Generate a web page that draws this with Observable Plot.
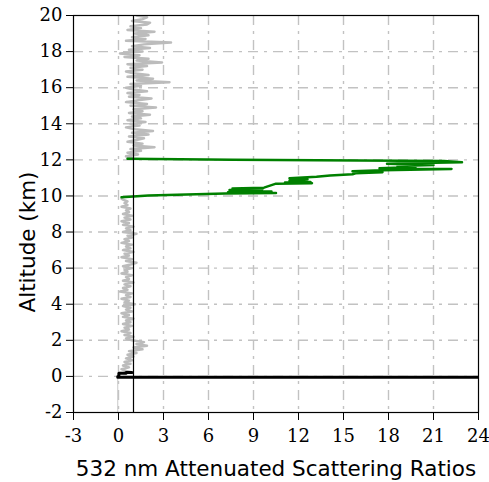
<!DOCTYPE html>
<html>
<head>
<meta charset="utf-8">
<script src="https://cdn.jsdelivr.net/npm/d3@7"></script>
<script src="https://cdn.jsdelivr.net/npm/@observablehq/plot@0.6"></script>
<style>
  html, body { margin: 0; padding: 0; background: #fff; }
</style>
</head>
<body>
<div id="chart"></div>
<script>
// Tick values
const xTicks = [-3, 0, 3, 6, 9, 12, 15, 18, 21, 24];
const yTicks = [-2, 0, 2, 4, 6, 8, 10, 12, 14, 16, 18, 20];

// Gray profile (clear air), lower part: [altitude km, scattering ratio]
const grayLower = [
  [0.25,0.8],[0.3,0.5],[0.4,0.2],[0.5,0.7],[0.6,0.3],[0.7,0.8],[0.8,0.4],[0.9,0.9],[1.0,0.5],
  [1.1,1.0],[1.2,0.6],[1.3,1.2],[1.4,0.7],[1.5,1.6],[1.6,1.0],[1.7,1.9],[1.8,1.2],[1.9,1.7],
  [2.0,0.9],[2.1,0.5],[2.2,1.0],[2.3,0.4],[2.4,0.8],[2.5,0.2],[2.6,0.7],[2.7,0.4],[2.8,0.9],[2.9,0.3],
  [3.0,0.8],[3.1,0.5],[3.2,1.0],[3.3,0.3],[3.4,0.7],[3.5,0.2],[3.6,0.9],[3.7,0.5],[3.8,0.8],[3.9,0.3],
  [4.0,1.1],[4.1,0.4],[4.2,0.7],[4.3,0.2],[4.4,0.8],[4.5,0.5],[4.6,0.9],[4.7,0.1],[4.8,0.6],[4.9,0.3],
  [5.0,0.8],[5.1,0.4],[5.2,1.0],[5.3,0.3],[5.4,0.7],[5.5,0.5],[5.6,0.9],[5.7,0.2],[5.8,0.6],[5.9,0.4],
  [6.0,0.9],[6.1,0.3],[6.2,0.8],[6.3,1.2],[6.4,0.5],[6.5,0.9],[6.6,0.2],[6.7,0.7],[6.8,0.4],[6.9,1.0],
  [7.0,0.3],[7.1,0.8],[7.2,0.5],[7.3,0.9],[7.4,0.2],[7.5,0.7],[7.6,0.4],[7.7,0.9],[7.8,0.6],[7.9,1.2],
  [8.0,0.3],[8.1,0.8],[8.2,0.5],[8.3,1.0],[8.4,0.3],[8.5,0.7],[8.6,0.2],[8.7,0.8],[8.8,0.4],[8.9,0.9],
  [9.0,0.3],[9.1,0.7],[9.2,0.5],[9.3,0.8],[9.4,0.2],[9.5,0.6],[9.6,0.4],[9.7,0.6],[9.8,0.3],[9.85,0.2]
];

// Gray profile, upper part (above cloud)
const grayUpper = [
  [12.1,0.9],[12.2,0.5],[12.3,1.3],[12.4,0.6],[12.5,1.5],[12.6,0.8],[12.7,2.4],[12.8,1.0],[12.9,1.6],
  [13.0,0.6],[13.1,1.2],[13.2,1.7],[13.3,0.7],[13.4,2.0],[13.5,0.9],[13.6,2.3],[13.7,1.1],[13.8,0.5],[13.9,1.4],
  [14.0,0.8],[14.1,1.8],[14.2,0.6],[14.3,1.5],[14.4,0.9],[14.5,2.1],[14.6,0.7],[14.7,1.6],[14.8,1.0],[14.9,2.5],
  [15.0,0.8],[15.1,1.9],[15.2,0.5],[15.3,1.3],[15.4,2.2],[15.5,0.7],[15.6,1.4],[15.7,0.6],[15.8,1.9],[15.9,1.0],
  [16.0,0.5],[16.1,1.5],[16.2,0.8],[16.3,3.4],[16.4,1.2],[16.5,2.3],[16.6,0.6],[16.7,2.0],[16.8,1.0],[16.9,0.5],
  [17.0,1.6],[17.1,0.8],[17.2,1.9],[17.3,0.6],[17.4,2.9],[17.5,1.2],[17.6,2.0],[17.7,0.4],[17.8,1.4],[17.9,0.1],
  [18.0,1.6],[18.1,0.7],[18.2,2.1],[18.3,0.9],[18.4,1.7],[18.5,3.5],[18.6,0.5],[18.7,1.8],[18.8,0.9],[18.9,2.0],
  [19.0,1.1],[19.1,2.4],[19.2,0.6],[19.3,1.5],[19.4,0.8],[19.5,1.9],[19.6,2.1],[19.7,0.9],[19.8,1.6],[19.9,1.9],
  [20.0,1.2],[20.1,1.0]
];

// Below-ground signal
const graySubsurface = [[-2.0,-0.05],[-0.05,-0.05]];

// Cloud layer (green)
const cloud = [
  [9.93,0.2],[10.03,2.0],[10.13,7.1],[10.16,10.5],[10.20,7.3],[10.24,10.2],[10.28,8.4],[10.33,7.4],
  [10.38,9.6],[10.42,7.6],[10.46,9.7],[10.52,9.9],[10.60,10.2],[10.68,10.5],[10.71,12.9],[10.74,11.1],
  [10.78,12.8],[10.84,11.4],[10.92,12.6],[10.98,11.4],[11.06,13.2],[11.14,14.1],[11.20,15.6],[11.26,15.8],
  [11.32,17.6],[11.37,15.6],[11.42,17.6],[11.50,22.2],[11.54,17.4],[11.60,19.8],[11.66,18.6],[11.72,21.0],
  [11.78,17.9],[11.82,20.2],[11.87,22.9],[11.94,21.7],[12.00,7.6],[12.06,0.6]
];

// Surface return (black)
const surface = [[0.22,0.9],[0.18,0.1],[0.0,-0.05],[-0.05,-0.05],[-0.05,40]];

const X = d => d[1], Y = d => d[0];
const gridStyle = {stroke: "#c2c2c2", strokeOpacity: 1, strokeWidth: 1.4, strokeDasharray: "10,6,3,6"};
const fmt = d => String(d);

const chart = Plot.plot({
  width: 489,
  height: 482,
  marginLeft: 73,
  marginRight: 11,
  marginTop: 15,
  marginBottom: 70,
  style: {fontFamily: "DejaVu Serif", fontSize: "18px", color: "black", background: "white"},
  x: {domain: [-3, 24], ticks: xTicks, label: null},
  y: {domain: [-2, 20], ticks: yTicks, label: null},
  marks: [
    Plot.gridX(xTicks.slice(1, -1), gridStyle),
    Plot.gridY(yTicks.slice(1, -1), gridStyle),
    Plot.line(graySubsurface, {x: X, y: Y, stroke: "#c8c8c8", strokeWidth: 1}),
    Plot.line(grayLower, {x: X, y: Y, stroke: "#bcbcbc", strokeWidth: 2.5, clip: true}),
    Plot.line(grayUpper, {x: X, y: Y, stroke: "#bcbcbc", strokeWidth: 2.5, clip: true}),
    Plot.line(cloud, {x: X, y: Y, stroke: "#008000", strokeWidth: 2.5, clip: true}),
    Plot.line(surface, {x: X, y: Y, stroke: "black", strokeWidth: 3, curve: "step", clip: true}),
    Plot.ruleX([1], {stroke: "black", strokeWidth: 1.2}),
    Plot.frame({stroke: "black", strokeWidth: 1.2}),
    Plot.axisX(xTicks, {tickSize: 8, tickPadding: 9, fontSize: 18, tickFormat: fmt, label: null}),
    Plot.axisY(yTicks, {tickSize: 7, tickPadding: 4, fontSize: 18, tickFormat: fmt, label: null}),
    Plot.text(["532 nm Attenuated Scattering Ratios"], {frameAnchor: "bottom", lineAnchor: "middle", dy: 57, fontFamily: "DejaVu Sans", fontSize: 21.5, fill: "black"}),
    Plot.text(["Altitude (km)"], {frameAnchor: "left", textAnchor: "middle", lineAnchor: "middle", rotate: -90, dx: -45, dy: 28, fontFamily: "DejaVu Sans", fontSize: 21.5, fill: "black"})
  ]
});
document.getElementById("chart").appendChild(chart);
</script>
</body>
</html>
